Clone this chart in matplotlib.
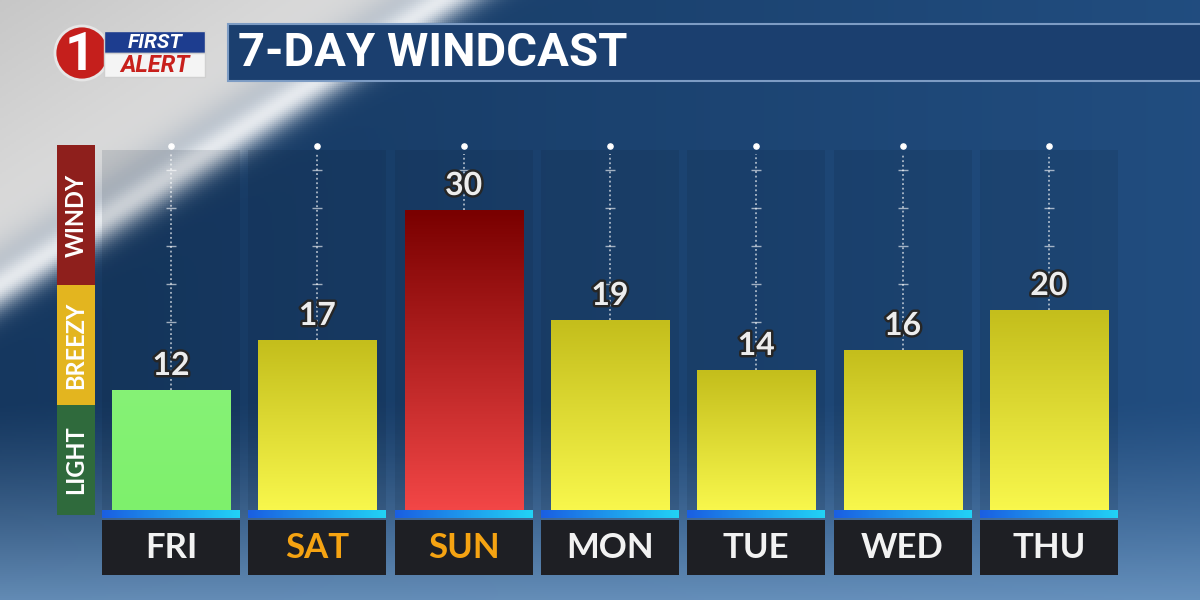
import numpy as np
import matplotlib.pyplot as plt
from matplotlib.colors import LinearSegmentedColormap, to_rgb
from matplotlib.patches import Rectangle, Circle
import matplotlib.patheffects as pe

# chart data
days = ['FRI', 'SAT', 'SUN', 'MON', 'TUE', 'WED', 'THU']
wind_mph = [12, 17, 30, 19, 14, 16, 20]
wind_level = ['LIGHT', 'BREEZY', 'WINDY', 'BREEZY', 'BREEZY', 'BREEZY', 'BREEZY']
weekend_days = ['SAT', 'SUN']
level_names = ['LIGHT', 'BREEZY', 'WINDY']
title = '7-DAY WINDCAST'

# styling
level_colors = {'LIGHT': '#2f6a3c', 'BREEZY': '#e3b51f', 'WINDY': '#8e1f1c'}
bar_grads = {
    'LIGHT': ['#7ef06c', '#86f276'],
    'BREEZY': ['#f8f74c', '#c4be1c'],
    'WINDY': ['#f24646', '#7a0000'],
}

fig = plt.figure(figsize=(12, 6), dpi=100)

# ---- background (pixel coordinates) ----
bg = fig.add_axes([0, 0, 1, 1], zorder=0)
bg.set_xlim(0, 1200)
bg.set_ylim(600, 0)
bg.axis('off')

yy, xx = np.mgrid[0:600:2, 0:1200:2].astype(float)
img = np.ones(xx.shape + (3,)) * np.array(to_rgb('#15375f'))
f = np.clip(xx / 1200, 0, 1)[..., None] * 0.55
img = img * (1 - f) + np.array(to_rgb('#2b5f9a')) * f
f = (np.clip((yy - 400) / 200, 0, 1) ** 1.3)[..., None] * 0.75
img = img * (1 - f) + np.array(to_rgb('#7ea8d2')) * f
s = xx + 1.55 * yy
gray_mask = (1 / (1 + np.exp(-(420 - s) / 22)))[..., None]
gray = (0.78 + 0.1 * np.clip(s / 420, 0, 1))[..., None] * np.ones(3)
img = img * (1 - gray_mask) + gray * gray_mask
streak = (np.exp(-((s - 440) / 38) ** 2) * 0.85)[..., None]
img = img + (1 - img) * streak
bg.imshow(np.clip(img, 0, 1), extent=(0, 1200, 600, 0), aspect='auto', zorder=0)

# title banner
bg.add_patch(Rectangle((228, 24), 980, 57, facecolor='#1b3f6f', edgecolor='#7d9cc4', lw=1.5, zorder=2))
bg.text(238, 53, title, color='white', fontsize=34, fontweight='bold', family='Roboto',
        ha='left', va='center', zorder=3)

# logo
bg.add_patch(Circle((82, 53), 27, facecolor='#c51f1c', edgecolor='#e6e6e6', lw=2, zorder=2))
bg.text(80, 55, '1', color='white', fontsize=38, fontweight='bold', family='Roboto',
        ha='center', va='center', zorder=3)
bg.add_patch(Rectangle((104, 31), 101, 22, facecolor='#1d3d8f', edgecolor='#d0d0d0', lw=1, zorder=2))
bg.add_patch(Rectangle((104, 53), 101, 24, facecolor='#f4f4f4', edgecolor='#d0d0d0', lw=1, zorder=2))
bg.text(155, 42, 'FIRST', color='white', fontsize=15, fontweight='bold', style='italic',
        family='Roboto', ha='center', va='center', zorder=3)
bg.text(155, 65, 'ALERT', color='#c8201c', fontsize=17, fontweight='bold', style='italic',
        family='Roboto', ha='center', va='center', zorder=3)

# ---- main chart axes ----
px_left, px_right, px_top, px_bottom = 97.9, 1122.0, 140.0, 575.0
ax = fig.add_axes([px_left / 1200, (600 - px_bottom) / 600,
                   (px_right - px_left) / 1200, (px_bottom - px_top) / 600], zorder=1)
ax.patch.set_alpha(0)
x = np.arange(len(days))
ymin, ymax = -6.5, 37
ax.axis('off')

panel_w = 0.943
bar_w = 0.807

# faint column panels
ax.bar(x, ymax - 1, bottom=0, width=panel_w, color='#0b1a2c', alpha=0.12, zorder=1)

# dashed guide lines with tick marks
tick_levels = np.arange(15, 35, 3.8)
for i, v in enumerate(wind_mph):
    ax.vlines(i, v, 35.6, colors='white', linestyles=(0, (1.2, 1.8)), lw=1.1, alpha=0.75, zorder=2)
    tl = tick_levels[tick_levels > v + 3]
    ax.scatter(np.full(len(tl), i), tl, marker='_', s=50, color='white', alpha=0.6, lw=1, zorder=2)
ax.scatter(x, np.full(len(x), 36.4), marker='o', s=14, color='white', zorder=2)

# bars with vertical gradients
for i, (v, lvl) in enumerate(zip(wind_mph, wind_level)):
    rect = ax.bar(i, v, width=bar_w, color=bar_grads[lvl][0], zorder=3)[0]
    cmap = LinearSegmentedColormap.from_list('g', bar_grads[lvl])
    im = ax.imshow(np.linspace(0, 1, 100).reshape(-1, 1), extent=(i - bar_w / 2, i + bar_w / 2, 0, v),
                   origin='lower', cmap=cmap, aspect='auto', zorder=3)
    im.set_clip_path(rect)
    ax.text(i, v + 1.0, str(v), ha='center', va='bottom', fontsize=23, fontweight='bold',
            family='Lato', color='#ededed', zorder=5,
            path_effects=[pe.withStroke(linewidth=3.5, foreground='#262626')])

# blue strip under bars
strip_cmap = LinearSegmentedColormap.from_list('s', ['#1a5fe2', '#22d2f6'])
for i in x:
    r = ax.bar(i, 0.8, bottom=-0.8, width=panel_w, color='#1a8fe8', zorder=3)[0]
    im = ax.imshow(np.linspace(0, 1, 100).reshape(1, -1),
                   extent=(i - panel_w / 2, i + panel_w / 2, -0.8, 0),
                   cmap=strip_cmap, aspect='auto', zorder=3)
    im.set_clip_path(r)

# day label boxes
ax.bar(x, 5.5, bottom=-6.5, width=panel_w, color='#1e1f24', zorder=3)
for i, d in enumerate(days):
    ax.text(i, -3.75, d, ha='center', va='center', fontsize=25, family='Lato',
            fontweight='bold', color='#f5a312' if d in weekend_days else '#f2f2f2', zorder=4)

# category scale on the left
lvl_bounds = {'LIGHT': (-0.5, 10.5), 'BREEZY': (10.5, 22.5), 'WINDY': (22.5, 36.5)}
lx0, lx1 = -0.78, -0.52
for name in level_names:
    y0, y1 = lvl_bounds[name]
    ax.add_patch(Rectangle((lx0, y0), lx1 - lx0, y1 - y0, facecolor=level_colors[name],
                           edgecolor='none', clip_on=False, zorder=3))
    ax.text((lx0 + lx1) / 2, (y0 + y1) / 2, name, rotation=90, ha='center', va='center',
            fontsize=17, fontweight='bold', family='Lato', color='white', clip_on=False, zorder=4)

ax.set_xlim(-0.5, len(days) - 0.5)
ax.set_ylim(ymin, ymax)

fig.savefig('out.png', dpi=100)
